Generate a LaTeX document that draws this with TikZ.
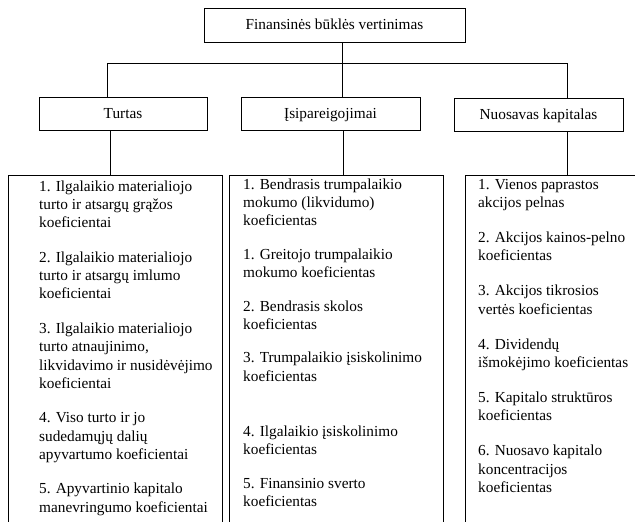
\documentclass[tikz,border=0pt]{standalone}
\usepackage{fontspec}
\setmainfont{Liberation Serif}
\tikzset{
  box/.style={draw, line width=1pt, inner sep=0pt},
  lbl/.style={font=\fontsize{15.3}{18.3}\selectfont, text height=10pt, text depth=0pt},
  lst/.style={font=\fontsize{15.3}{18.3}\selectfont, align=left, anchor=north west, inner sep=0pt},
  conn/.style={line width=1pt}
}
\begin{document}
\begin{tikzpicture}[x=1pt,y=-1pt]
\useasboundingbox (0,0) rectangle (635,522);
\clip (0,0) rectangle (635,522);
% header boxes
\node[box, lbl, minimum width=261pt, minimum height=34pt] (top) at (334.5,25) {Finansinės būklės vertinimas};
\node[box, lbl, minimum width=168pt, minimum height=33pt] (turtas) at (123,113.5) {Turtas};
\node[box, lbl, minimum width=179pt, minimum height=33pt] (isip) at (330.5,113.5) {Įsipareigojimai};
\node[box, lbl, minimum width=169pt, minimum height=33pt] (nuos) at (538.5,114.5) {Nuosavas kapitalas};
% list boxes (open below the picture edge)
\node[box, minimum width=214pt, minimum height=400pt, anchor=north west] (listL) at (8,175) {};
\node[box, minimum width=214pt, minimum height=400pt, anchor=north west] (listM) at (229,175) {};
\node[box, minimum width=200pt, minimum height=400pt, anchor=north west] (listR) at (465,175) {};
% connectors
\coordinate (busL) at (107,63);
\coordinate (busR) at (567,63);
\coordinate (busC) at (342,63);
\coordinate (dL) at (110,150);
\coordinate (dM) at (343,150);
\draw[conn] (busL) -- (busR);
\draw[conn] (top.south -| busC) -- (isip.north -| busC);
\draw[conn] (busL) -- (turtas.north -| busL);
\draw[conn] (busR) -- (nuos.north -| busR);
\draw[conn] (turtas.south -| dL) -- (listL.north -| dL);
\draw[conn] (isip.south -| dM) -- (listM.north -| dM);
\draw[conn] (nuos.south -| busR) -- (listR.north -| busR);
% list texts
\node[lst] (txtL) at (39,178.2) {\strut 1. Ilgalaikio materialiojo\\
turto ir atsargų grąžos\\
koeficientai\\[16.2pt]
2. Ilgalaikio materialiojo\\
turto ir atsargų imlumo\\
koeficientai\\[16.2pt]
3. Ilgalaikio materialiojo\\
turto atnaujinimo,\\
likvidavimo ir nusidėvėjimo\\
koeficientai\\[16.2pt]
4. Viso turto ir jo\\
sudedamųjų dalių\\
apyvartumo koeficientai\\[16.2pt]
5. Apyvartinio kapitalo\\
manevringumo koeficientai};
\node[lst] (txtM) at (243,176.2) {\strut 1. Bendrasis trumpalaikio\\
mokumo (likvidumo)\\
koeficientas\\[15.2pt]
1. Greitojo trumpalaikio\\
mokumo koeficientas\\[15.2pt]
2. Bendrasis skolos\\
koeficientas\\[15.2pt]
3. Trumpalaikio įsiskolinimo\\
koeficientas\\[36.7pt]
4. Ilgalaikio įsiskolinimo\\
koeficientas\\[15.2pt]
5. Finansinio sverto\\
koeficientas};
\node[lst] (txtR) at (478,176.2) {\strut 1. Vienos paprastos\\
akcijos pelnas\\[16.7pt]
2. Akcijos kainos-pelno\\
koeficientas\\[16.7pt]
3. Akcijos tikrosios\\
vertės koeficientas\\[16.7pt]
4. Dividendų\\
išmokėjimo koeficientas\\[16.7pt]
5. Kapitalo struktūros\\
koeficientas\\[16.7pt]
6. Nuosavo kapitalo\\
koncentracijos\\
koeficientas};
\end{tikzpicture}
\end{document}
